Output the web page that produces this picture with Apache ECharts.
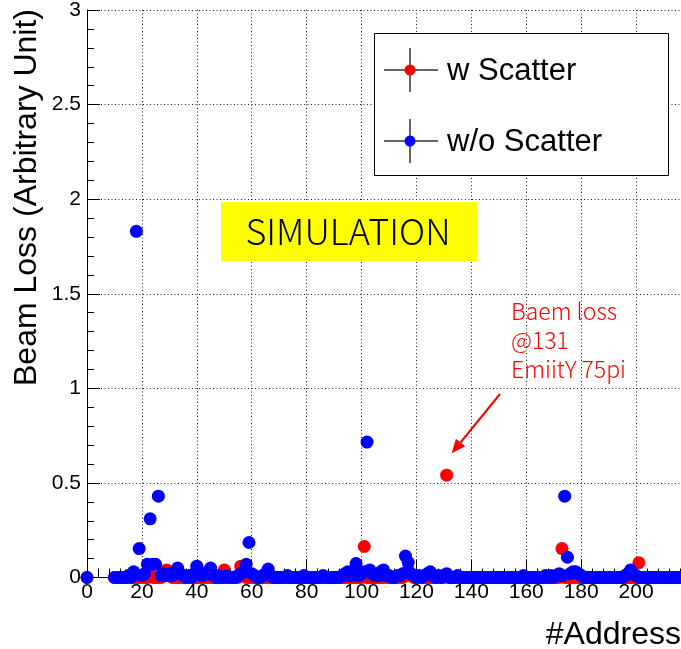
<!DOCTYPE html>
<html>
<head>
<meta charset="utf-8">
<script src="https://cdn.jsdelivr.net/npm/echarts@6/dist/echarts.min.js"></script>
<style>
html,body{margin:0;padding:0;background:#fff;}
#chart{width:681px;height:649px;}
</style>
</head>
<body>
<div id="chart"></div>
<script>
// Addresses (x values)
const addresses = [0,
  10,11,12,13,14,15,16,17,18,19,
  20,21,22,23,24,25,26,27,28,29,
  30,31,32,33,34,35,36,37,38,39,
  40,41,42,43,44,45,46,47,48,49,
  50,51,52,53,54,55,56,57,58,59,
  60,61,62,63,64,65,66,67,68,69,
  70,71,72,73,74,75,76,77,78,79,
  80,81,82,83,84,85,86,87,88,89,
  90,91,92,93,94,95,96,97,98,99,
  100,101,102,103,104,105,106,107,108,109,
  110,111,112,113,114,115,116,117,118,119,
  120,121,122,123,124,125,126,127,128,129,
  130,131,132,133,134,135,136,137,138,139,
  140,141,142,143,144,145,146,147,148,149,
  150,151,152,153,154,155,156,157,158,159,
  160,161,162,163,164,165,166,167,168,169,
  170,171,172,173,174,175,176,177,178,179,
  180,181,182,183,184,185,186,187,188,189,
  190,191,192,193,194,195,196,197,198,199,
  200,201,202,203,204,205,206,207,208,209,
  210,211,212,213,214,215,216,217,218,219,
  220];

// Beam loss with scatter (red)
const wScatter = [0,
  0,0,0,0,0,0,0,0,0,0,
  0,0,0,0.01,0,0,0,0,0.01,0.04,
  0.01,0,0,0,0,0,0,0,0,0,
  0,0,0,0,0,0,0,0,0,0,
  0.04,0,0,0,0,0,0.06,0.05,0,0,
  0,0,0,0,0,0,0,0,0,0,
  0,0,0,0,0,0,0,0,0,0,
  0,0,0,0,0,0,0,0,0,0,
  0,0,0,0,0,0,0,0,0,0,
  0,0.164,0,0,0,0,0,0,0,0,
  0,0,0,0,0,0,0.02,0.04,0.01,0,
  0,0,0,0,0,0,0,0,0,0,
  0,0.541,0,0,0,0,0,0,0,0,
  0,0,0,0,0,0,0,0,0,0,
  0,0,0,0,0,0,0,0,0,0,
  0,0,0,0,0,0,0,0,0,0,
  0,0,0,0.153,0,0,0,0,0,0,
  0,0,0,0,0,0,0,0,0,0,
  0,0,0,0,0,0,0,0,0,0,
  0,0.078,0,0,0,0,0,0,0,0,
  0,0,0,0,0,0,0,0,0,0,
  0];

// Beam loss without scatter (blue)
const woScatter = [0,
  0,0,0,0,0,0.01,0,0.03,1.83,0.153,
  0.01,0.02,0.07,0.31,0.07,0.07,0.43,0.01,0.02,0.01,
  0.02,0.01,0.03,0.05,0.02,0.01,0,0.01,0,0.02,
  0.06,0.02,0.01,0.02,0.03,0.05,0.01,0,0.01,0,
  0,0.01,0,0,0,0.01,0.02,0.03,0.07,0.185,
  0.02,0.01,0,0,0.01,0.02,0.045,0.01,0,0,
  0,0,0,0.01,0,0,0,0,0,0.01,
  0,0,0,0,0,0,0.01,0,0,0,
  0,0,0,0.01,0.02,0.03,0.01,0.02,0.074,0.01,
  0.02,0.03,0.716,0.04,0.02,0.01,0.01,0.03,0.04,0.01,
  0.01,0,0,0.01,0.01,0.02,0.113,0.08,0.02,0.01,
  0,0.01,0,0.01,0.02,0.03,0.01,0,0.01,0,
  0.01,0.02,0,0,0,0.01,0,0,0,0,
  0,0,0,0,0,0,0,0,0,0,
  0,0,0,0,0,0,0,0,0,0.01,
  0,0,0,0,0,0,0,0.01,0,0.01,
  0,0.01,0.02,0.01,0.43,0.107,0.02,0.03,0.03,0.02,
  0.01,0,0,0,0,0,0,0,0,0,
  0,0,0,0,0,0,0.01,0.02,0.04,0.02,
  0.01,0,0,0,0,0,0,0,0,0,
  0,0,0,0,0,0,0,0,0,0,
  0];

const seriesNames = ['w Scatter', 'w/o Scatter'];
const seriesColors = ['#ff0000', '#0000ff'];
const xTitle = '#Address';
const yTitle = 'Beam Loss (Arbitrary Unit)';
const boxText = 'SIMULATION';
const noteText = 'Baem loss\n@131\nEmiitY 75pi';

const chart = echarts.init(document.getElementById('chart'), null, {renderer: 'canvas'});
const pair = (vals) => addresses.map((a, i) => [a, vals[i]]);
const FONT = '"Liberation Sans", Arial, Helvetica, sans-serif';
const CJK = '"Noto Sans CJK JP", sans-serif';

const legendItems = [];
[70, 141].forEach((cy, i) => {
  legendItems.push(
    {type: 'line', z: 101, shape: {x1: 384, y1: cy, x2: 438, y2: cy}, style: {stroke: '#333', lineWidth: 1.5}},
    {type: 'line', z: 101, shape: {x1: 410, y1: cy - 22, x2: 410, y2: cy + 22}, style: {stroke: '#333', lineWidth: 1.5}},
    {type: 'circle', z: 102, shape: {cx: 410, cy: cy, r: 5.5}, style: {fill: seriesColors[i]}},
    {type: 'text', z: 102, x: 447, y: cy + 1, style: {text: seriesNames[i], fill: '#000', font: '31px ' + FONT, textAlign: 'left', textVerticalAlign: 'middle', align: 'left', verticalAlign: 'middle'}}
  );
});

const option = {
  animation: false,
  backgroundColor: '#fff',
  grid: {left: 87, top: 10, width: 604, bottom: 71.5, containLabel: false, outerBoundsMode: 'none'},
  xAxis: {
    type: 'value', min: 0, max: 220, interval: 20,
    axisLine: {show: true, onZero: false, lineStyle: {color: '#000', width: 1}},
    axisTick: {show: true, inside: true, length: 18, lineStyle: {color: '#000', width: 1}},
    minorTick: {show: true, splitNumber: 5, length: 9, lineStyle: {color: '#000', width: 1}},
    axisLabel: {color: '#000', fontFamily: FONT, fontSize: 21, margin: 4, showMaxLabel: false},
    splitLine: {show: true, lineStyle: {color: '#222', type: [1, 2.5], width: 1}}
  },
  yAxis: {
    type: 'value', min: 0, max: 3, interval: 0.5,
    axisLine: {show: true, onZero: false, lineStyle: {color: '#000', width: 1}},
    axisTick: {show: true, inside: true, length: 13, lineStyle: {color: '#000', width: 1}},
    minorTick: {show: true, splitNumber: 5, length: 7, lineStyle: {color: '#000', width: 1}},
    axisLabel: {color: '#000', fontFamily: FONT, fontSize: 21, margin: 6, showMaxLabel: true, showMinLabel: true},
    splitLine: {show: true, lineStyle: {color: '#222', type: [1, 2.5], width: 1}}
  },
  series: [
    {name: seriesNames[0], type: 'scatter', symbol: 'circle', symbolSize: 13, clip: false,
     itemStyle: {color: seriesColors[0], opacity: 1}, data: pair(wScatter), z: 2},
    {name: seriesNames[1], type: 'scatter', symbol: 'circle', symbolSize: 13, clip: false,
     itemStyle: {color: seriesColors[1], opacity: 1}, data: pair(woScatter), z: 3}
  ],
  graphic: [
    {type: 'text', z: 100, x: 27, y: 9, rotation: Math.PI / 2,
     style: {text: yTitle, fill: '#000', font: '32px ' + FONT, textAlign: 'right', textVerticalAlign: 'middle', align: 'right', verticalAlign: 'middle'}},
    {type: 'text', z: 100, x: 681, y: 635,
     style: {text: xTitle, fill: '#000', font: '32px ' + FONT, textAlign: 'right', textVerticalAlign: 'middle', align: 'right', verticalAlign: 'middle'}},
    {type: 'rect', z: 100, shape: {x: 374.5, y: 33.5, width: 294, height: 142}, style: {fill: '#fff', stroke: '#000', lineWidth: 1}},
    ...legendItems,
    {type: 'rect', z: 100, shape: {x: 221, y: 202, width: 256, height: 59}, style: {fill: '#ffff00'}},
    {type: 'text', z: 101, x: 348, y: 231,
     style: {text: boxText, fill: '#000', font: '300 36px ' + CJK, textAlign: 'center', textVerticalAlign: 'middle', align: 'center', verticalAlign: 'middle'}},
    {type: 'text', z: 101, x: 511, y: 297,
     style: {text: noteText, fill: '#ff0000', font: '300 23px ' + CJK, lineHeight: 29, textAlign: 'left', textVerticalAlign: 'top', align: 'left', verticalAlign: 'top'}},
    {type: 'line', z: 101, shape: {x1: 500, y1: 394, x2: 460.5, y2: 442.5}, style: {stroke: '#ff0000', lineWidth: 2}},
    {type: 'polygon', z: 101, shape: {points: [[451.7, 453.3], [465.2, 446.3], [455.9, 438.7]]}, style: {fill: '#ff0000'}}
  ]
};
chart.setOption(option);
</script>
</body>
</html>
